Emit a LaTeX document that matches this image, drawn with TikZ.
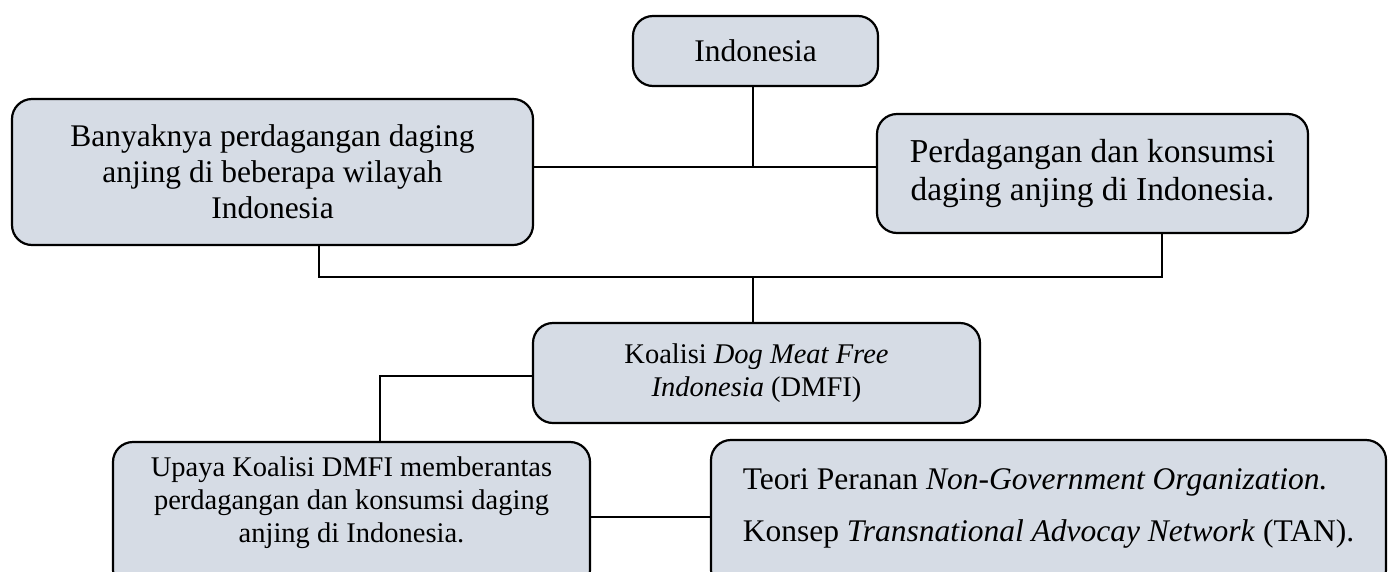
\documentclass[tikz,border=0pt]{standalone}
\usepackage{fontspec}
\setmainfont{Liberation Serif}
\definecolor{kotakisi}{HTML}{D6DCE5}
\begin{document}
\begin{tikzpicture}[x=1pt,y=-1pt,
        kotak/.style={draw=black, fill=kotakisi, line width=2.2pt, rounded corners=20pt, inner sep=6pt, align=center},
        besar/.style={font=\fontsize{31.5pt}{36pt}\selectfont},
        lebar/.style={font=\fontsize{33.4pt}{38pt}\selectfont},
        kecil/.style={font=\fontsize{28.5pt}{33pt}\selectfont},
        garis/.style={line width=2pt}]
        \clip (0,0) rectangle (1389,571);
        \useasboundingbox (0,0) rectangle (1389,571);
        \node[kotak,besar,minimum width=245pt,minimum height=70pt] (indo) at (755.5,51) {Indonesia};
        \node[kotak,besar,minimum width=521pt,minimum height=146pt] (banyak) at (272.5,172) {Banyaknya perdagangan daging\\anjing di beberapa wilayah\\Indonesia};
        \node[kotak,lebar,minimum width=431pt,minimum height=119pt] (dagang) at (1092.5,173.5) {Perdagangan dan konsumsi\\daging anjing di Indonesia.};
        \node[kotak,kecil,minimum width=447pt,minimum height=100pt] (koalisi) at (756.5,373) {Koalisi \textit{Dog Meat Free}\\\textit{Indonesia} (DMFI)};
        \node[kotak,kecil,minimum width=477pt,minimum height=148pt,text depth=32pt] (upaya) at (351.5,516) {Upaya Koalisi DMFI memberantas\\perdagangan dan konsumsi daging\\anjing di Indonesia.};
        \node[kotak,besar,minimum width=675pt,minimum height=150pt,text depth=19pt,align=left] (teori) at (1048.5,515) {Teori Peranan \textit{Non-Government Organization.}\\[16pt]Konsep \textit{Transnational Advocay Network} (TAN).};
        % garis penghubung
        \coordinate (simpang) at (753,167);
        \draw[garis] (simpang |- indo.south) -- (simpang);
        \draw[garis] (simpang -| banyak.east) -- (simpang -| dagang.west);
        \coordinate (kiri) at (319,277);
        \coordinate (kanan) at (1162,277);
        \draw[garis] (kiri |- banyak.south) -- (kiri) -- (kanan) -- (kanan |- dagang.south);
        \draw[garis] (simpang |- kiri) -- (simpang |- koalisi.north);
        \coordinate (belok) at (380,376);
        \draw[garis] (belok -| koalisi.west) -- (belok) -- (belok |- upaya.north);
        \coordinate (sambung) at (650,517);
        \draw[garis] (sambung -| upaya.east) -- (sambung -| teori.west);
\end{tikzpicture}
\end{document}
